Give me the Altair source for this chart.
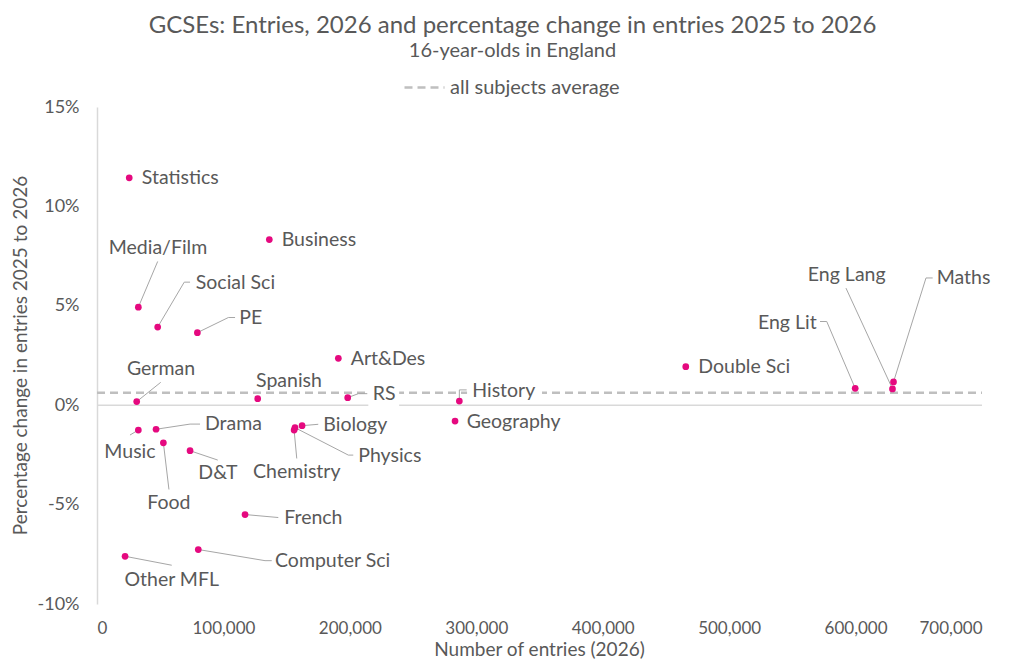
import altair as alt
import pandas as pd

FONT = "Lato"
TXT = "#595959"
PINK = "#e5097f"

# ---- data ----
subjects = ["Statistics", "Media/Film", "Social Sci", "PE", "Business", "Art&Des",
            "German", "Spanish", "RS", "Music", "Drama", "Food", "D&T",
            "Chemistry", "Physics", "Biology", "French", "Computer Sci",
            "Other MFL", "Double Sci", "Eng Lit", "Eng Lang", "Maths",
            "History", "Geography"]
entries = [25500, 32700, 48000, 79400, 136300, 190900,
           31400, 127100, 198300, 32700, 46700, 52500, 73600,
           155900, 156600, 162200, 117100, 80100,
           22200, 465700, 599700, 629200, 630000,
           286600, 283200]
pct_change = [11.44, 4.93, 3.93, 3.65, 8.33, 2.36,
              0.18, 0.33, 0.38, -1.25, -1.21, -1.89, -2.29,
              -1.25, -1.13, -1.03, -5.50, -7.26,
              -7.60, 1.94, 0.85, 0.82, 1.17,
              0.21, -0.80]
average_change = 0.63
average_label = "all subjects average"

x_ticks = [0, 100000, 200000, 300000, 400000, 500000, 600000, 700000]
y_ticks = [-10, -5, 0, 5, 10, 15]

# ---- label layout (annotation placement, in data units) ----
label_layout = [
    ("Statistics", 35400, 11.44, "left"),
    ("Business", 146100, 8.33, "left"),
    ("Media/Film", 48200, 7.91, "center"),
    ("Social Sci", 78100, 6.14, "left"),
    ("PE", 112600, 4.38, "left"),
    ("Art&Des", 200700, 2.33, "left"),
    ("German", 50600, 1.82, "center"),
    ("Spanish", 125800, 1.22, "left"),
    ("RS", 218100, 0.55, "left"),
    ("Drama", 85400, -0.95, "left"),
    ("Music", 26100, -2.34, "center"),
    ("Food", 56900, -4.94, "center"),
    ("D&T", 95700, -3.43, "center"),
    ("Biology", 179000, -1.00, "left"),
    ("Physics", 206700, -2.56, "left"),
    ("Chemistry", 158000, -3.38, "center"),
    ("French", 148100, -5.65, "left"),
    ("Computer Sci", 140800, -7.85, "left"),
    ("Other MFL", 59100, -8.81, "center"),
    ("Double Sci", 475600, 1.94, "left"),
    ("Eng Lit", 569200, 4.13, "right"),
    ("Eng Lang", 593000, 6.56, "center"),
    ("Maths", 664200, 6.40, "left"),
    ("History", 296800, 0.73, "left"),
    ("Geography", 292400, -0.83, "left"),
]

leader_waypoints = {
    "Media/Film": [(48000, 7.23)],
    "Social Sci": [(69000, 6.19), (73600, 6.19)],
    "PE": [(103900, 4.41), (109200, 4.41)],
    "German": [(50400, 1.15)],
    "RS": [(206700, 0.58), (213800, 0.58)],
    "Drama": [(73600, -0.95), (81500, -0.95)],
    "Music": [(26100, -1.50)],
    "Food": [(56900, -4.24)],
    "D&T": [(95500, -2.76)],
    "Biology": [(175000, -0.96)],
    "Physics": [(198800, -2.51), (202700, -2.51)],
    "Chemistry": [(158000, -2.68)],
    "French": [(143400, -5.65)],
    "Computer Sci": [(132900, -7.82), (138200, -7.82)],
    "Other MFL": [(59100, -8.05)],
    "Eng Lit": [(577200, 4.21), (571900, 4.21)],
    "Eng Lang": [(592400, 5.89)],
    "Maths": [(655700, 6.40), (661000, 6.40)],
    "History": [(286600, 0.77), (292400, 0.77)],
}

# white label backgrounds that interrupt the lines
label_boxes = [
    ("RS", 214600, 239000, 1.17, -0.09),
    ("History", 292700, 352000, 1.22, 0.10),
]

# ---- build tables ----
points = pd.DataFrame({"subject": subjects, "entries": entries, "pct": pct_change})
lookup = dict(zip(subjects, zip(entries, pct_change)))

labels = pd.DataFrame(label_layout, columns=["subject", "lx", "ly", "align"])

rows = []
for s, wps in leader_waypoints.items():
    px, py = lookup[s]
    rows.append({"subject": s, "order": 0, "x": px, "y": py})
    for i, (wx, wy) in enumerate(wps, start=1):
        rows.append({"subject": s, "order": i, "x": wx, "y": wy})
leaders = pd.DataFrame(rows)

boxes = pd.DataFrame(label_boxes, columns=["subject", "x1", "x2", "y1", "y2"])
avg = pd.DataFrame({"avg": [average_change], "series": [average_label]})
zero = pd.DataFrame({"z": [0]})

xscale = alt.Scale(domain=[0, 700000], nice=False, zero=False)
yscale = alt.Scale(domain=[-10, 15], nice=False, zero=False)

x_axis = alt.Axis(values=x_ticks, format=",d", grid=False, domain=False, ticks=False,
                  labelFont=FONT, labelFontSize=17, labelColor=TXT, labelPadding=16,
                  title="Number of entries (2026)", titleFont=FONT, titleFontSize=19,
                  titleColor=TXT, titleFontWeight="normal", titleX=442, titleY=45,
                  titleBaseline="middle")
y_axis = alt.Axis(values=y_ticks, labelExpr="datum.value + '%'", grid=False,
                  domain=True, domainColor="#d9d9d9", domainWidth=1.5, ticks=False,
                  labelFont=FONT, labelFontSize=18, labelColor=TXT, labelPadding=18,
                  title="Percentage change in entries 2025 to 2026", titleFont=FONT,
                  titleFontSize=19, titleColor=TXT, titleFontWeight="normal",
                  titleAngle=-90, titleX=-77, titleY=248, titleAlign="center",
                  titleBaseline="middle")

base_pts = alt.Chart(points).mark_circle(size=45, color=PINK, opacity=1).encode(
    x=alt.X("entries:Q", scale=xscale, axis=x_axis),
    y=alt.Y("pct:Q", scale=yscale, axis=y_axis),
)

zero_rule = alt.Chart(zero).mark_rule(color="#d9d9d9", strokeWidth=1.5).encode(
    y=alt.Y("z:Q", scale=yscale),
    x=alt.datum(0, scale=xscale), x2=alt.datum(700000),
)

avg_rule = alt.Chart(avg).mark_rule(color="#bfbfbf", strokeWidth=2.5).encode(
    y=alt.Y("avg:Q", scale=yscale),
    x=alt.datum(0, scale=xscale), x2=alt.datum(700000),
    strokeDash=alt.StrokeDash(
        "series:N",
        scale=alt.Scale(domain=[average_label], range=[[8, 5]]),
        legend=alt.Legend(title=None, orient="none", legendX=306, legendY=-41,
                          symbolType="stroke", symbolStrokeColor="#bfbfbf",
                          symbolStrokeWidth=2.5, symbolSize=1600,
                          labelFont=FONT, labelFontSize=20, labelColor=TXT,
                          labelOffset=4, labelLimit=0),
    ),
)

box_layer = alt.Chart(boxes).mark_rect(color="white").encode(
    x=alt.X("x1:Q", scale=xscale), x2="x2:Q",
    y=alt.Y("y1:Q", scale=yscale), y2="y2:Q",
)

leader_layer = alt.Chart(leaders).mark_line(color="#a6a6a6", strokeWidth=1).encode(
    x=alt.X("x:Q", scale=xscale),
    y=alt.Y("y:Q", scale=yscale),
    detail="subject:N",
    order="order:Q",
)

text_layers = []
for a in ["left", "center", "right"]:
    text_layers.append(
        alt.Chart(labels).transform_filter(alt.datum.align == a)
        .mark_text(align=a, baseline="middle", font=FONT, fontSize=19.5, color=TXT)
        .encode(x=alt.X("lx:Q", scale=xscale), y=alt.Y("ly:Q", scale=yscale),
                text="subject:N")
    )

chart = alt.layer(
    zero_rule, avg_rule, box_layer, leader_layer, base_pts, *text_layers
).properties(
    width=885, height=497,
    autosize=alt.AutoSizeParams(type="none"),
    padding={"left": 89, "top": 99, "right": 30, "bottom": 56},
    title=alt.TitleParams(
        text="GCSEs: Entries, 2026 and percentage change in entries 2025 to 2026",
        subtitle="16-year-olds in England",
        anchor="middle", dx=-27, offset=5,
        font=FONT, fontSize=24, fontWeight="normal", color=TXT,
        subtitleFont=FONT, subtitleFontSize=20, subtitleColor=TXT,
        subtitlePadding=3,
    ),
).configure_view(stroke=None)

chart.save("out.html", embed_options={"renderer": "svg", "actions": False})
